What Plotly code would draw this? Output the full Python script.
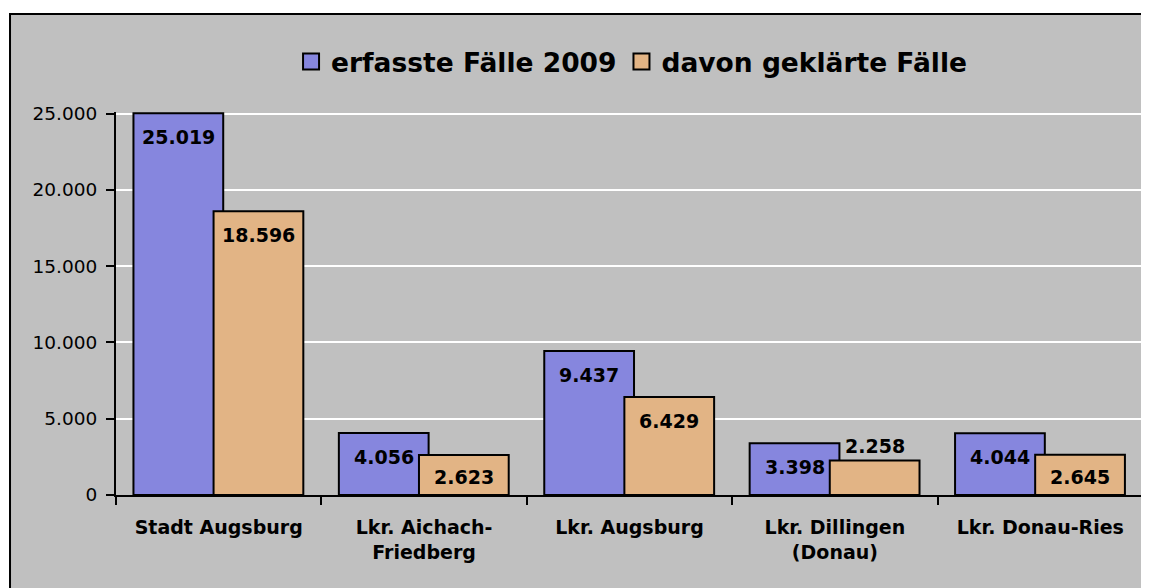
import plotly.graph_objects as go

# Landkreise / Stadt im Präsidialbereich
categories = [
    "Stadt Augsburg",
    "Lkr. Aichach-<br>Friedberg",
    "Lkr. Augsburg",
    "Lkr. Dillingen<br>(Donau)",
    "Lkr. Donau-Ries",
]
erfasste = [25019, 4056, 9437, 3398, 4044]
geklaert = [18596, 2623, 6429, 2258, 2645]

series_names = ["erfasste Fälle 2009", "davon geklärte Fälle"]
y_ticks = [0, 5000, 10000, 15000, 20000, 25000]

BLUE = "#8686DE"
ORANGE = "#E2B485"
BG = "#C0C0C0"
FONT = "DejaVu Sans"

BAR_W = 0.437
CAT_PX = 1027 / 5  # pixel width of one category slot

fig = go.Figure()

# Bars overlap slightly like the original (orange drawn on top of blue).
# Labels sit a bit lower inside the bar than plotly's own inside text, so
# they are annotations pinned to each bar's value.
series = [
    (erfasste, BLUE, -0.415, [-24, -24, -24, -24, -24]),
    (geklaert, ORANGE, -0.025, [-24, -22, -24, 15, -22]),
]
for vals, color, offset, shifts in series:
    fig.add_trace(
        go.Bar(
            x=categories,
            y=vals,
            width=BAR_W,
            offset=offset,
            marker=dict(color=color, line=dict(color="black", width=2)),
            showlegend=False,
            hovertemplate="%{x}: %{y:,d}<extra></extra>",
        )
    )
    xshift = (offset + BAR_W / 2) * CAT_PX
    for cat, v, ys in zip(categories, vals, shifts):
        fig.add_annotation(
            x=cat,
            y=v,
            text=f"<b>{v:,}</b>".replace(",", "."),
            showarrow=False,
            xshift=xshift,
            yshift=ys,
            yanchor="middle",
            font=dict(family=FONT, size=19, color="black"),
        )

# Legend entries with larger square swatches
for name, color in zip(series_names, [BLUE, ORANGE]):
    fig.add_trace(
        go.Scatter(
            x=[None],
            y=[None],
            mode="markers",
            name=name,
            marker=dict(symbol="square", size=16, color=color, line=dict(color="black", width=2)),
        )
    )

# Grey chart box with black border
fig.add_shape(
    type="rect",
    xref="paper",
    yref="paper",
    x0=-0.1032,
    x1=1.2,
    y0=-1.0,
    y1=1.256,
    fillcolor=BG,
    line=dict(color="black", width=2),
    layer="below",
)

fig.update_layout(
    width=1149,
    height=588,
    margin=dict(l=108, r=14, t=104, b=101),
    paper_bgcolor="white",
    plot_bgcolor=BG,
    barmode="overlay",
    separators=",.",
    font=dict(family=FONT, size=18, color="black"),
    legend=dict(
        orientation="h",
        x=0.502,
        xanchor="center",
        y=1.131,
        yanchor="middle",
        font=dict(family=FONT, size=26.5, color="black", weight="bold"),
        bgcolor="rgba(0,0,0,0)",
        itemsizing="trace",
    ),
    xaxis=dict(
        showline=True,
        linecolor="black",
        linewidth=2,
        ticks="outside",
        tickson="boundaries",
        ticklen=8,
        tickwidth=2,
        tickcolor="black",
        ticklabelstandoff=14,
        tickfont=dict(family=FONT, size=19, color="black", weight="bold"),
        showgrid=False,
    ),
    yaxis=dict(
        range=[0, 25100],
        tickvals=y_ticks,
        tickformat=",d",
        showline=True,
        linecolor="black",
        linewidth=2,
        ticks="outside",
        ticklen=8,
        tickwidth=2,
        tickcolor="black",
        ticklabelstandoff=5,
        showgrid=True,
        gridcolor="white",
        gridwidth=2,
        zeroline=False,
        tickfont=dict(family=FONT, size=18.5, color="black"),
    ),
)

fig.write_html("out.html")
